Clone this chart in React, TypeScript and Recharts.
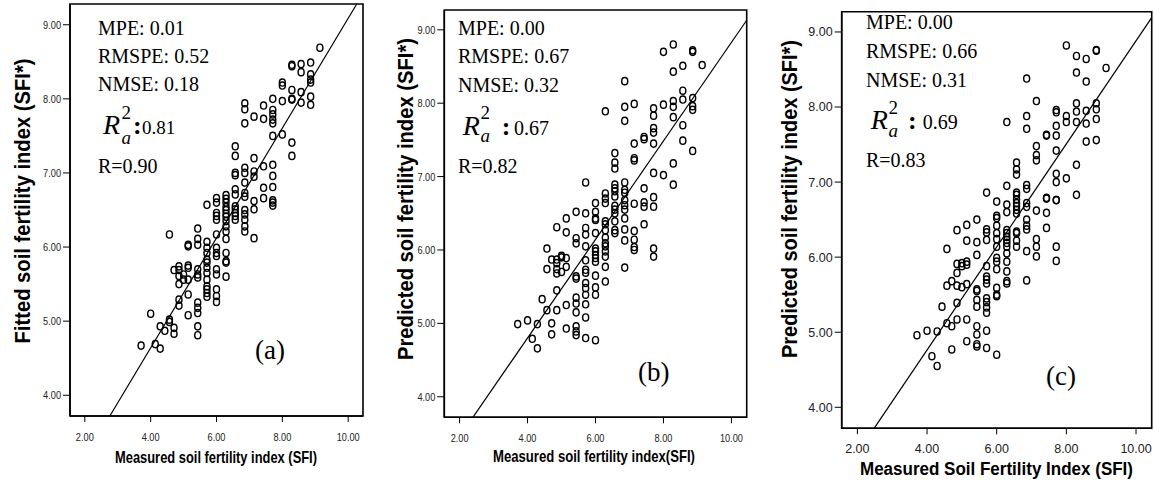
import React from 'react';
import { ScatterChart, Scatter, XAxis, YAxis, ReferenceLine, ReferenceArea, Customized } from 'recharts';

// Measured SFI levels (x), shared by all three panels
const measuredLevels = [3.71, 4.0, 4.14, 4.29, 4.43, 4.57, 4.71, 4.86, 5.0, 5.14, 5.43, 5.71, 6.0, 6.29, 6.57, 6.86, 7.14, 7.43, 7.71, 8.0, 8.29, 8.57, 8.86, 9.14];

// Panel (a): fitted SFI* per measured level
const fittedA: number[][] = [
  [4.67], [5.10], [4.69], [4.93, 4.63], [4.87], [6.17, 5.02, 4.99], [4.91, 4.83, 5.69],
  [5.74, 5.69, 5.61, 5.50, 5.29, 5.21], [5.63, 5.56],
  [6.03, 6.01, 5.75, 5.72, 5.56, 5.36, 5.08],
  [6.25, 6.11, 6.03, 5.70, 5.63, 5.59, 5.25, 5.18, 5.11, 4.93, 4.81],
  [6.57, 6.07, 5.99, 5.92, 5.83, 5.79, 5.72, 5.65, 5.56, 5.47, 5.43, 5.38, 5.33],
  [6.66, 6.60, 6.46, 6.42, 6.37, 6.17, 5.99, 5.92, 5.88, 5.70, 5.63, 5.43, 5.34, 5.26],
  [6.70, 6.65, 6.60, 6.54, 6.50, 6.45, 6.41, 6.35, 6.28, 6.21, 6.11, 5.92, 5.81, 5.79, 5.60],
  [7.36, 7.23, 7.00, 6.97, 6.78, 6.71, 6.55, 6.51, 6.46, 6.42, 6.37],
  [7.94, 7.86, 7.67, 7.07, 7.00, 6.87, 6.73, 6.68, 6.50, 6.44, 6.37, 6.28, 6.21],
  [7.76, 7.20, 7.02, 6.95, 6.62, 6.51, 6.12],
  [7.91, 7.73, 7.09, 6.80, 6.66],
  [8.00, 7.85, 7.79, 7.72, 7.67, 7.50, 7.11, 6.96, 6.81, 6.63, 6.60, 6.56],
  [8.22, 8.18, 7.97, 7.52],
  [8.46, 8.44, 8.12, 8.00, 7.99, 7.41, 7.23],
  [8.47, 8.36, 8.09, 7.95],
  [8.49, 8.33, 8.26, 8.22, 8.03, 7.92],
  [8.69],
];

// Panel (b): predicted SFI* per measured level
const predictedB: number[][] = [
  [4.99], [5.04], [4.79], [4.99, 4.66], [5.33], [6.02, 5.74, 5.18], [5.87, 5.00, 4.85],
  [6.31, 5.87, 5.82, 5.74, 5.68, 5.45, 5.18], [5.92, 5.90, 5.70],
  [6.43, 6.24, 5.89, 5.77, 5.25, 4.93],
  [6.52, 6.16, 6.09, 5.64, 5.61, 5.35, 5.27, 5.15, 4.96, 4.89, 4.84],
  [6.92, 6.50, 6.30, 6.21, 6.05, 5.86, 5.73, 5.69, 5.55, 5.48, 5.39, 5.26, 5.08, 4.80],
  [6.64, 6.52, 6.43, 6.41, 6.23, 6.02, 5.98, 5.93, 5.89, 5.84, 5.65, 5.49, 5.39, 4.77],
  [7.89, 6.77, 6.70, 6.64, 6.39, 6.35, 6.27, 6.17, 6.09, 6.05, 5.98, 5.91, 5.77, 5.57],
  [7.32, 7.19, 7.11, 6.89, 6.84, 6.80, 6.73, 6.60, 6.55, 6.50, 6.39, 6.27, 6.23],
  [8.30, 7.95, 7.76, 6.92, 6.82, 6.78, 6.68, 6.61, 6.55, 6.43, 6.28, 6.13, 5.76],
  [7.99, 7.45, 7.25, 7.22, 6.63, 6.26, 6.14, 6.04, 6.00],
  [7.54, 7.51, 6.84, 6.65, 6.59, 6.35],
  [7.93, 7.83, 7.66, 7.60, 7.45, 7.05, 6.72, 6.59, 6.02, 5.91],
  [8.70, 7.98, 7.02],
  [8.80, 8.43, 8.03, 7.95, 7.81, 7.18, 6.89],
  [8.51, 8.17, 8.05, 7.70, 7.49],
  [8.72, 8.70, 8.07, 7.96, 7.91, 7.35],
  [8.52],
];

// Panel (c): predicted SFI* per measured level
const predictedC: number[][] = [
  [4.96], [5.02], [4.68], [5.01, 4.55], [5.34], [6.11, 5.62, 5.12], [5.68, 5.08, 4.77],
  [6.36, 5.91, 5.79, 5.62, 5.39, 5.17], [5.92, 5.88, 5.60],
  [6.43, 6.22, 5.94, 5.90, 5.64, 5.17, 4.88],
  [6.50, 6.20, 6.03, 5.57, 5.55, 5.43, 5.34, 5.08, 4.97, 4.84, 4.81],
  [6.86, 6.37, 6.33, 6.23, 5.88, 5.74, 5.70, 5.65, 5.45, 5.40, 5.33, 5.26, 5.02, 4.79],
  [6.74, 6.55, 6.52, 6.42, 6.32, 6.24, 6.14, 5.99, 5.94, 5.84, 5.59, 5.50, 5.48, 4.70],
  [7.80, 6.95, 6.70, 6.60, 6.36, 6.32, 6.27, 6.23, 6.19, 6.14, 6.05, 5.94, 5.81, 5.68, 5.65],
  [7.26, 7.17, 7.10, 6.86, 6.83, 6.77, 6.72, 6.68, 6.63, 6.58, 6.34, 6.32, 6.22, 6.14],
  [8.38, 7.88, 7.71, 6.96, 6.91, 6.72, 6.67, 6.50, 6.42, 6.37, 6.08, 5.69],
  [8.08, 7.48, 7.36, 7.29, 6.62, 6.24, 6.14, 6.01],
  [7.63, 7.62, 6.79, 6.78, 6.59, 6.39],
  [7.96, 7.93, 7.75, 7.62, 7.42, 7.11, 7.00, 6.76, 6.76, 6.14, 5.95],
  [8.82, 7.88, 7.80, 7.05],
  [8.68, 8.46, 8.05, 7.94, 7.80, 7.23, 6.83],
  [8.64, 8.34, 7.95, 7.78, 7.54],
  [8.76, 8.75, 8.05, 7.97, 7.84, 7.56],
  [8.52],
];

// Fitted regression lines (endpoints at the plot edges)
const fitLineA = [{ x: 2.76, y: 3.72 }, { x: 10.26, y: 9.28 }];
const fitLineB = [{ x: 2.39, y: 3.72 }, { x: 10.45, y: 9.13 }];
const fitLineC = [{ x: 2.48, y: 3.72 }, { x: 10.45, y: 9.19 }];

const statsA = ['MPE: 0.01', 'RMSPE: 0.52', 'NMSE: 0.18'];
const statsB = ['MPE: 0.00', 'RMSPE: 0.67', 'NMSE: 0.32'];
const statsC = ['MPE: 0.00', 'RMSPE: 0.66', 'NMSE: 0.31'];
const r2Values = ['0.81', '0.67', '0.69'];
const rValues = ['R=0.90', 'R=0.82', 'R=0.83'];
const panelTags = ['(a)', '(b)', '(c)'];

const xTicks = [2, 4, 6, 8, 10];
const yTicks = [4, 5, 6, 7, 8, 9];

const xTitles = ['Measured soil fertility index (SFI)', 'Measured soil fertility index(SFI)', 'Measured Soil Fertility Index (SFI)'];
const yTitles = ['Fitted soil fertility index (SFI*)', 'Predicted soil fertility index (SFI*)', 'Predicted soil fertility index (SFI*)'];

const toPoints = (ys: number[][]) =>
  measuredLevels.flatMap((x, i) => ys[i].map((y) => ({ x, y })));

const SERIF = "'Liberation Serif', 'Times New Roman', serif";
const SANS = "'Liberation Sans', Arial, sans-serif";

type Layout = {
  left: number; width: number;
  margin: { top: number; right: number; bottom: number; left: number };
  xDomain: [number, number]; yDomain: [number, number];
  tickFont: number; tickSqueeze: number; xTickMargin: number;
  statX: number; statBase: number[]; rx: number; supX: number; supDy: number; subDy: number;
  colonX: number; valX: number; valSize: number;
  tagX: number; tagY: number;
  yTitleX: number; yTitleY: number; yTitleLen: number; yTitleSize: number;
  xTitleX: number; xTitleY: number; xTitleLen: number; xTitleSize: number;
};

const layouts: Layout[] = [
  {
    left: 0, width: 380, margin: { top: 4, right: 17, bottom: 40, left: 25 },
    xDomain: [1.55, 10.45], yDomain: [3.72, 9.28], tickFont: 11.5, tickSqueeze: 0.8, xTickMargin: 11,
    statX: 98, statBase: [35, 63, 91, 133.5, 173], rx: 103, supX: 121.5, supDy: -15, subDy: 10,
    colonX: 133, valX: 142, valSize: 19,
    tagX: 255, tagY: 359,
    yTitleX: 30, yTitleY: 201, yTitleLen: 285, yTitleSize: 22,
    xTitleX: 216, xTitleY: 463, xTitleLen: 202, xTitleSize: 17,
  },
  {
    left: 380, width: 380, margin: { top: 10, right: 13.3, bottom: 38.7, left: 19.3 },
    xDomain: [1.55, 10.45], yDomain: [3.72, 9.27], tickFont: 11.5, tickSqueeze: 0.8, xTickMargin: 11,
    statX: 78, statBase: [35, 63, 92, 135, 173], rx: 82.7, supX: 100.5, supDy: -16, subDy: 7,
    colonX: 121.7, valX: 134, valSize: 20,
    tagX: 258, tagY: 381,
    yTitleX: 33, yTitleY: 199, yTitleLen: 322, yTitleSize: 21.5,
    xTitleX: 214, xTitleY: 462, xTitleLen: 202, xTitleSize: 17,
  },
  {
    left: 760, width: 394, margin: { top: 11.7, right: 2.3, bottom: 27.7, left: 36.7 },
    xDomain: [1.55, 10.45], yDomain: [3.72, 9.27], tickFont: 12.5, tickSqueeze: 1, xTickMargin: 10,
    statX: 106, statBase: [29.3, 58.3, 87.3, 129, 166.7], rx: 110.7, supX: 128.5, supDy: -15, subDy: 8,
    colonX: 148, valX: 162.7, valSize: 20,
    tagX: 286, tagY: 385,
    yTitleX: 37, yTitleY: 199, yTitleLen: 318, yTitleSize: 21.5,
    xTitleX: 236.5, xTitleY: 475, xTitleLen: 273, xTitleSize: 18,
  },
];

const panelData = [toPoints(fittedA), toPoints(predictedB), toPoints(predictedC)];
const fitLines = [fitLineA, fitLineB, fitLineC];
const statLines = [statsA, statsB, statsC];

const OpenCircle = (props: any) => (
  <ellipse cx={props.cx} cy={props.cy} rx={3.0} ry={3.6} fill="none" stroke="#000" strokeWidth={1.45} />
);

// Tick label that can be horizontally condensed (like the narrow sans of the original)
const makeTick = (fs: number, squeeze: number, dy: string) => (props: any) => {
  const { x, y, payload, textAnchor } = props;
  const label = Number(payload.value).toFixed(2);
  let w = 0;
  for (const ch of label) w += ch === '.' ? 0.278 : 0.556;
  const len = w * fs * squeeze;
  return (
    <text
      x={x} y={y} dy={dy} textAnchor={textAnchor} fontFamily={SANS} fontSize={fs} fill="#222"
      textLength={squeeze !== 1 ? len : undefined} lengthAdjust="spacingAndGlyphs"
    >{label}</text>
  );
};

function PanelText({ i }: { i: number }) {
  const L = layouts[i];
  const s = statLines[i];
  const b = L.statBase;
  return (
    <g>
      {s.map((t, k) => (
        <text key={t} x={L.statX} y={b[k]} fontFamily={SERIF} fontSize={20} fill="#000">{t}</text>
      ))}
      <text x={L.rx} y={b[3]} fontFamily={SERIF} fontSize={28} fontStyle="italic" fill="#000">R</text>
      <text x={L.supX} y={b[3] + L.supDy} fontFamily={SERIF} fontSize={19} fill="#000">2</text>
      <text x={L.supX} y={b[3] + L.subDy} fontFamily={SERIF} fontSize={19} fontStyle="italic" fill="#000">a</text>
      <text x={L.colonX} y={b[3]} fontFamily={SERIF} fontSize={26} fontWeight="bold" fill="#000">:</text>
      <text x={L.valX} y={b[3]} fontFamily={SERIF} fontSize={L.valSize} fill="#000">{r2Values[i]}</text>
      <text x={L.statX} y={b[4]} fontFamily={SERIF} fontSize={20} fill="#000">{rValues[i]}</text>
      <text x={L.tagX} y={L.tagY} fontFamily={SERIF} fontSize={27} fill="#000">{panelTags[i]}</text>
      <g transform={`translate(${L.yTitleX}, ${L.yTitleY}) rotate(-90)`}>
        <text
          x={0} y={0} textAnchor="middle" fontFamily={SANS} fontWeight="bold"
          fontSize={L.yTitleSize} textLength={L.yTitleLen} lengthAdjust="spacingAndGlyphs" fill="#000"
        >{yTitles[i]}</text>
      </g>
      <text
        x={L.xTitleX} y={L.xTitleY} textAnchor="middle" fontFamily={SANS} fontWeight="bold"
        fontSize={L.xTitleSize} textLength={L.xTitleLen} lengthAdjust="spacingAndGlyphs" fill="#000"
      >{xTitles[i]}</text>
    </g>
  );
}

function Panel({ i }: { i: number }) {
  const L = layouts[i];
  const fit = fitLines[i];
  return (
    <div style={{ position: 'absolute', left: L.left, top: 0 }}>
      <ScatterChart width={L.width} height={481} margin={L.margin}>
        <XAxis
          type="number" dataKey="x" domain={L.xDomain} ticks={xTicks} allowDataOverflow
          height={25} tickSize={6} tickMargin={L.xTickMargin}
          axisLine={{ stroke: '#000', strokeWidth: 1.5 }} tickLine={{ stroke: '#000' }}
          tick={makeTick(L.tickFont, L.tickSqueeze, '0.71em')}
        />
        <YAxis
          type="number" dataKey="y" domain={L.yDomain} ticks={yTicks} allowDataOverflow
          width={45} tickSize={7} tickMargin={2}
          axisLine={{ stroke: '#000', strokeWidth: 1.5 }} tickLine={{ stroke: '#000' }}
          tick={makeTick(L.tickFont, L.tickSqueeze, '0.355em')}
        />
        <ReferenceArea
          x1={L.xDomain[0]} x2={L.xDomain[1]} y1={L.yDomain[0]} y2={L.yDomain[1]}
          fill="none" fillOpacity={0} stroke="#000" strokeWidth={1.6} ifOverflow="visible"
        />
        <ReferenceLine segment={fit} stroke="#000" strokeWidth={1.2} ifOverflow="visible" />
        <Scatter data={panelData[i]} shape={OpenCircle} isAnimationActive={false} />
        <Customized component={() => <PanelText i={i} />} />
      </ScatterChart>
    </div>
  );
}

export default function App() {
  return (
    <div style={{ position: 'absolute', left: 0, top: 0, width: 1154, height: 481, background: '#fff' }}>
      <Panel i={0} />
      <Panel i={1} />
      <Panel i={2} />
    </div>
  );
}
